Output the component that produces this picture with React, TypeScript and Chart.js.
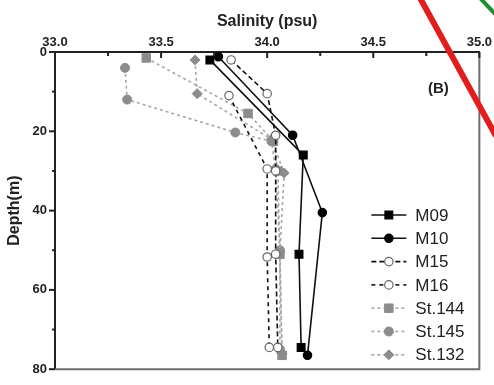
import { useEffect, useRef } from "react";
import { Chart, registerables } from "chart.js";

Chart.register(...registerables);

// Axis ticks
const SALINITY_TICKS = [33.0, 33.5, 34.0, 34.5, 35.0];
const DEPTH_TICKS = [0, 20, 40, 60, 80];

// Station profiles: salinity (psu) against depth (m)
const m09Salinity = [33.73, 34.17, 34.15, 34.16];
const m09Depth = [2, 26, 51, 74.5];

const m10Salinity = [33.77, 34.12, 34.26, 34.19];
const m10Depth = [1.2, 21, 40.5, 76.5];

const m15Salinity = [33.83, 34.0, 34.04, 34.04, 34.04, 34.05];
const m15Depth = [2, 10.5, 21, 30, 51, 74.5];

const m16Salinity = [33.82, 34.0, 34.0, 34.01];
const m16Depth = [11, 29.5, 51.7, 74.5];

const st144Salinity = [33.43, 33.91, 34.03, 34.05, 34.06, 34.07];
const st144Depth = [1.5, 15.5, 22.5, 30, 51, 76.5];

const st145Salinity = [33.33, 33.34, 33.85, 34.02, 34.04, 34.06, 34.06];
const st145Depth = [4, 12, 20.3, 22.5, 29.5, 50, 75];

const st132Salinity = [33.66, 33.67, 34.02, 34.08, 34.06, 34.07];
const st132Depth = [2, 10.5, 22, 30.5, 50.5, 76];

const zip = (s: number[], d: number[]) => s.map((v, i) => ({ x: v, y: d[i] }));

const FONT = "'Liberation Sans', Arial, sans-serif";
const GREY_LINE = "#a8a8a8";
const GREY_MARK = "#8c8c8c";

const frameAndTicks = {
  id: "frameAndTicks",
  afterDraw(chart: any) {
    const { ctx, chartArea: a, scales } = chart;
    const xs = scales.x;
    const ys = scales.y;
    ctx.save();
    // right and bottom frame
    ctx.strokeStyle = "#6e6e6e";
    ctx.lineWidth = 2;
    ctx.beginPath();
    ctx.moveTo(a.right, a.top);
    ctx.lineTo(a.right, a.bottom);
    ctx.lineTo(a.left, a.bottom);
    ctx.stroke();

    // salinity ticks point into the plot
    ctx.strokeStyle = "#222";
    ctx.lineWidth = 2;
    for (let i = 0; i < SALINITY_TICKS.length; i++) {
      const v = SALINITY_TICKS[i];
      const px = xs.getPixelForValue(v);
      ctx.beginPath();
      ctx.moveTo(px, a.top);
      ctx.lineTo(px, a.top + 6);
      ctx.stroke();
      if (i < SALINITY_TICKS.length - 1) {
        const mx = xs.getPixelForValue((v + SALINITY_TICKS[i + 1]) / 2);
        ctx.beginPath();
        ctx.moveTo(mx, a.top);
        ctx.lineTo(mx, a.top + 4);
        ctx.stroke();
      }
    }
    // depth ticks point outward
    for (let i = 0; i < DEPTH_TICKS.length; i++) {
      const v = DEPTH_TICKS[i];
      const py = ys.getPixelForValue(v);
      ctx.beginPath();
      ctx.moveTo(a.left, py);
      ctx.lineTo(a.left - 6, py);
      ctx.stroke();
      if (i < DEPTH_TICKS.length - 1) {
        const my = ys.getPixelForValue((v + DEPTH_TICKS[i + 1]) / 2);
        ctx.beginPath();
        ctx.moveTo(a.left, my);
        ctx.lineTo(a.left - 3, my);
        ctx.stroke();
      }
    }

    // panel tag
    ctx.fillStyle = "#222";
    ctx.font = `bold 15px ${FONT}`;
    ctx.textAlign = "center";
    ctx.textBaseline = "middle";
    ctx.fillText("(B)", a.right - 41, a.top + 37);

    // legend
    const rowTop = a.top + 163;
    const rowGap = 23.3;
    const lx0 = a.right - 108;
    const lx1 = a.right - 73;
    ctx.font = `17px ${FONT}`;
    ctx.textAlign = "left";
    chart.data.datasets.forEach((ds: any, i: number) => {
      const y = rowTop + i * rowGap;
      ctx.save();
      ctx.strokeStyle = ds.borderColor;
      ctx.lineWidth = ds.borderWidth;
      ctx.setLineDash(ds.borderDash || []);
      ctx.beginPath();
      ctx.moveTo(lx0, y);
      ctx.lineTo(lx1, y);
      ctx.stroke();
      ctx.restore();
      const el = chart.getDatasetMeta(i).data[0];
      if (el) {
        const o = el.options;
        ctx.save();
        ctx.fillStyle = o.backgroundColor;
        ctx.strokeStyle = o.borderColor;
        ctx.lineWidth = o.borderWidth;
        const r = o.radius;
        const cx = (lx0 + lx1) / 2;
        ctx.beginPath();
        if (o.pointStyle === "rect") {
          const s = Math.SQRT1_2 * r;
          ctx.rect(cx - s, y - s, 2 * s, 2 * s);
        } else if (o.pointStyle === "rectRot") {
          ctx.moveTo(cx, y - r);
          ctx.lineTo(cx + r, y);
          ctx.lineTo(cx, y + r);
          ctx.lineTo(cx - r, y);
          ctx.closePath();
        } else {
          ctx.arc(cx, y, r, 0, Math.PI * 2);
        }
        ctx.fill();
        ctx.stroke();
        ctx.restore();
      }
      ctx.fillStyle = "#222";
      ctx.fillText(ds.label, lx1 + 9, y + 1);
    });

    // coloured strokes across the upper-right corner
    ctx.lineCap = "butt";
    ctx.strokeStyle = "#1e8f2a";
    ctx.lineWidth = 4;
    ctx.beginPath();
    ctx.moveTo(480, -2);
    ctx.lineTo(498, 17);
    ctx.stroke();
    ctx.strokeStyle = "#e21d1d";
    ctx.lineWidth = 6;
    ctx.beginPath();
    ctx.moveTo(420, -2);
    ctx.lineTo(496, 136);
    ctx.stroke();
    ctx.restore();
  },
};

export default function App() {
  const ref = useRef<HTMLCanvasElement | null>(null);

  useEffect(() => {
    if (!ref.current) return;
    const black = (label: string, s: number[], d: number[], style: string, open: boolean, dash: number[]) => ({
      label,
      data: zip(s, d),
      showLine: true,
      borderColor: "#111",
      borderWidth: 1.6,
      borderDash: dash,
      pointStyle: style,
      pointRadius: style === "rect" ? 5.5 : 4.2,
      pointBackgroundColor: open ? "#fff" : "#000",
      pointBorderColor: open ? "#666" : "#000",
      pointBorderWidth: 1.2,
      clip: false,
    });
    const grey = (label: string, s: number[], d: number[], style: string) => ({
      label,
      data: zip(s, d),
      showLine: true,
      borderColor: GREY_LINE,
      borderWidth: 1.6,
      borderDash: [3, 3],
      pointStyle: style,
      pointRadius: style === "rect" ? 6 : style === "rectRot" ? 5 : 4.5,
      pointBackgroundColor: GREY_MARK,
      pointBorderColor: GREY_MARK,
      pointBorderWidth: 1,
      clip: false,
    });

    const chart = new Chart(ref.current, {
      type: "scatter",
      data: {
        datasets: [
          black("M09", m09Salinity, m09Depth, "rect", false, []),
          black("M10", m10Salinity, m10Depth, "circle", false, []),
          black("M15", m15Salinity, m15Depth, "circle", true, [5, 3]),
          black("M16", m16Salinity, m16Depth, "circle", true, [4, 4]),
          grey("St.144", st144Salinity, st144Depth, "rect"),
          grey("St.145", st145Salinity, st145Depth, "circle"),
          grey("St.132", st132Salinity, st132Depth, "rectRot"),
        ] as any,
      },
      options: {
        responsive: false,
        animation: false,
        layout: { padding: { left: 0, top: 0, right: 13, bottom: 6 } },
        plugins: { legend: { display: false }, tooltip: { enabled: false } },
        scales: {
          x: {
            type: "linear",
            position: "top",
            min: 33,
            max: 35,
            afterBuildTicks: (s: any) => {
              s.ticks = SALINITY_TICKS.map((v) => ({ value: v }));
            },
            afterFit: (s: any) => {
              s.height = 52;
            },
            grid: { display: false, drawTicks: false },
            border: { display: true, color: "#222", width: 2 },
            ticks: {
              padding: 2,
              color: "#222",
              font: { family: FONT, size: 13, weight: "bold" },
              callback: (v: any) => Number(v).toFixed(1),
            },
            title: {
              display: true,
              text: "Salinity (psu)",
              color: "#222",
              font: { family: FONT, size: 16, weight: "bold" },
              padding: { top: 12, bottom: 0 },
            },
          },
          y: {
            type: "linear",
            reverse: true,
            min: 0,
            max: 80,
            afterBuildTicks: (s: any) => {
              s.ticks = DEPTH_TICKS.map((v) => ({ value: v }));
            },
            afterFit: (s: any) => {
              s.width = 55;
            },
            grid: { display: false, drawTicks: false },
            border: { display: true, color: "#222", width: 2 },
            ticks: {
              padding: 8,
              color: "#222",
              font: { family: FONT, size: 13, weight: "bold" },
            },
            title: {
              display: true,
              text: "Depth(m)",
              color: "#222",
              font: { family: FONT, size: 16, weight: "bold" },
              padding: { top: 5, bottom: 0 },
            },
          },
        },
      } as any,
      plugins: [frameAndTicks],
    });
    return () => chart.destroy();
  }, []);

  return (
    <div style={{ position: "fixed", left: 0, top: 0, width: 494, height: 385, background: "#fff" }}>
      <canvas ref={ref} width={494} height={385} style={{ display: "block" }} />
    </div>
  );
}
